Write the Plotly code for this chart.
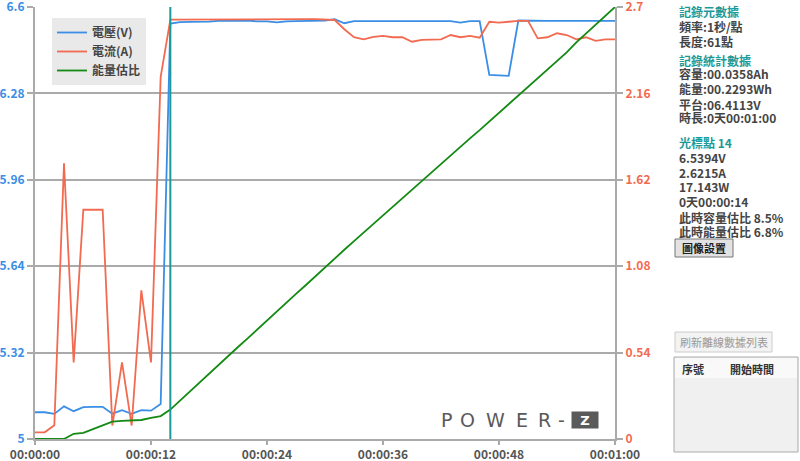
import plotly.graph_objects as go

# ---------------- data ----------------
seconds = list(range(61))
time_ticks = [0, 12, 24, 36, 48, 60]
time_labels = ["00:00:00", "00:00:12", "00:00:24", "00:00:36", "00:00:48", "00:01:00"]

v_ticks = [5, 5.32, 5.64, 5.96, 6.28, 6.6]
v_labels = ["5", "5.32", "5.64", "5.96", "6.28", "6.6"]
a_ticks = [0, 0.54, 1.08, 1.62, 2.16, 2.7]
a_labels = ["0", "0.54", "1.08", "1.62", "2.16", "2.7"]

voltage = [5.099, 5.099, 5.093, 5.121, 5.103, 5.118, 5.119, 5.119, 5.094, 5.107, 5.093, 5.107, 5.105, 5.130,
           6.539, 6.544, 6.545, 6.545, 6.546, 6.549, 6.550, 6.550, 6.550, 6.547, 6.547, 6.543, 6.547, 6.548,
           6.548, 6.550, 6.550, 6.555,
           6.540, 6.548, 6.548, 6.548, 6.548, 6.547, 6.548, 6.548, 6.548, 6.548, 6.547, 6.548, 6.542, 6.548,
           6.548,
           6.349, 6.347, 6.345,
           6.550, 6.549, 6.549, 6.549, 6.549, 6.549, 6.549, 6.549, 6.549, 6.549, 6.549]

current = [0.042, 0.042, 0.086, 1.724, 0.479, 1.433, 1.433, 1.433, 0.084, 0.479, 0.084, 0.929, 0.479, 2.263,
           2.6215, 2.622, 2.622, 2.623, 2.623, 2.623, 2.624, 2.624, 2.624, 2.624, 2.624, 2.624, 2.624, 2.624,
           2.624, 2.624, 2.623, 2.619,
           2.561, 2.511, 2.498, 2.514, 2.519, 2.511, 2.511, 2.483, 2.494, 2.498, 2.498, 2.525, 2.511, 2.519,
           2.508,
           2.608, 2.602, 2.608,
           2.614, 2.614, 2.504, 2.511, 2.536, 2.525, 2.498, 2.511, 2.488, 2.498, 2.498]

energy_pct = [0, 0, 0, 0, 1.2, 1.4, 2.3, 3.2, 4.0, 4.2, 4.3, 4.4, 4.9, 5.3,
              6.8, 8.9, 11.0, 13.1, 15.2, 17.3, 19.3, 21.3, 23.3, 25.4, 27.4, 29.5, 31.5, 33.6, 35.6, 37.7,
              39.7, 41.8,
              43.8, 45.8, 47.8, 49.8, 51.8, 53.7, 55.7, 57.7, 59.7, 61.6, 63.6, 65.6, 67.6, 69.6, 71.5,
              73.5, 75.5, 77.5, 79.6, 81.6, 83.6, 85.5, 87.5, 89.5, 91.8, 93.8, 95.9, 97.9, 100.0]

cursor_index = 14

panel_lines = [
    ("記錄元數據", True), ("頻率:1秒/點", False), ("長度:61點", False),
    ("記錄統計數據", True), ("容量:00.0358Ah", False), ("能量:00.2293Wh", False),
    ("平台:06.4113V", False), ("時長:0天00:01:00", False),
    ("光標點 14", True), ("6.5394V", False), ("2.6215A", False), ("17.143W", False),
    ("0天00:00:14", False), ("此時容量估比 8.5%", False), ("此時能量估比 6.8%", False),
]
panel_y = [11, 26, 41, 60, 74, 89, 104, 118, 142, 157, 172, 187, 202, 217, 232]

# ---------------- geometry helpers (pixel -> paper) ----------------
W, H = 800, 461
ML, MR, MT, MB = 35, 185, 7, 22
PW, PH = W - ML - MR, H - MT - MB


def px(x):
    return (x - ML) / PW


def py(y):
    return (H - MB - y) / PH


BLUE = "#3a8ee6"
RED = "#f26a50"
GREEN = "#138a13"
TEAL = "#1b9a98"
GRID = "#aaaaaa"
TXT = "#444444"
FONT = "Noto Sans CJK TC"


def note(x, y, text, size=12, color=TXT, bold=True, xanchor="center", family=FONT, **kw):
    return dict(xref="paper", yref="paper", x=px(x), y=py(y), text=text, showarrow=False,
                xanchor=xanchor, yanchor="middle",
                font=dict(family=family, size=size, color=color, weight="bold" if bold else "normal"), **kw)


fig = go.Figure()
fig.add_trace(go.Scatter(x=seconds, y=voltage, mode="lines", name="電壓(V)",
                         line=dict(color=BLUE, width=1.8), yaxis="y"))
fig.add_trace(go.Scatter(x=seconds, y=current, mode="lines", name="電流(A)",
                         line=dict(color=RED, width=1.8), yaxis="y2"))
fig.add_trace(go.Scatter(x=seconds, y=energy_pct, mode="lines", name="能量估比",
                         line=dict(color=GREEN, width=1.8), yaxis="y3"))

shapes = [
    dict(type="line", xref="x", yref="paper", x0=cursor_index, x1=cursor_index, y0=0, y1=1,
         line=dict(color=TEAL, width=2)),
    # buttons and table
    dict(type="rect", xref="paper", yref="paper", x0=px(675), x1=px(733), y0=py(257), y1=py(239),
         fillcolor="#e2e2e2", line=dict(color="#777777", width=1), layer="below"),
    dict(type="rect", xref="paper", yref="paper", x0=px(675), x1=px(772), y0=py(352), y1=py(332),
         fillcolor="#f3f3f3", line=dict(color="#cccccc", width=1), layer="below"),
    dict(type="rect", xref="paper", yref="paper", x0=px(674), x1=px(798), y0=py(452), y1=py(357),
         fillcolor="#f0f0f0", line=dict(color="#aaaaaa", width=1), layer="below"),
    dict(type="rect", xref="paper", yref="paper", x0=px(675), x1=px(797), y0=py(378), y1=py(358),
         fillcolor="#f9f9f9", line=dict(width=0), layer="below"),
]

annotations = []
for (txt, head), yy in zip(panel_lines, panel_y):
    annotations.append(note(677, yy, txt, color=TEAL if head else TXT, xanchor="left"))
annotations += [
    note(704, 248, "圖像設置", size=11, color="#222222"),
    note(723.5, 342, "刷新離線數據列表", size=11, color="#999999", bold=False),
    note(680, 369, "序號", size=11, color="#333333", xanchor="left"),
    note(752, 369, "開始時間", size=11, color="#333333"),
    note(584.5, 420, "Z", size=13, color="#ffffff", family="DejaVu Sans",
         bgcolor="#5a5a5a", borderpad=1, width=24, height=14),
]
for ch, cx in zip("POWER-", [446.5, 467.5, 495, 521.5, 544, 561]):
    annotations.append(note(cx, 420, ch, size=19, color="#5a5a5a", bold=False, family="DejaVu Sans"))

fig.update_layout(
    width=W, height=H,
    margin=dict(l=ML, r=MR, t=MT, b=MB, autoexpand=False),
    paper_bgcolor="white", plot_bgcolor="white",
    font=dict(family=FONT, color=TXT),
    showlegend=True,
    legend=dict(x=px(52), y=py(18), xanchor="left", yanchor="top", bgcolor="#e9e9e9",
                borderwidth=0, font=dict(family=FONT, size=12, color=TXT, weight="bold"),
                tracegroupgap=0, itemwidth=30),
    xaxis=dict(range=[0, 60], tickvals=time_ticks, ticktext=time_labels, showgrid=False, zeroline=False,
               automargin=False, ticklabeloverflow="allow",
               showline=True, linecolor=GRID, linewidth=2, ticks="outside", ticklen=4, tickcolor=GRID,
               tickwidth=2, tickfont=dict(family=FONT, size=12, color="#555555", weight="bold")),
    yaxis=dict(range=[5, 6.6001], tickvals=v_ticks, ticktext=v_labels, showgrid=True, gridcolor=GRID,
               automargin=False, ticklabeloverflow="allow",
               gridwidth=2, zeroline=False, showline=True, linecolor=GRID, linewidth=2, ticks="outside",
               ticklen=6, tickcolor=GRID, tickwidth=2,
               tickfont=dict(family=FONT, size=12, color=BLUE, weight="bold")),
    yaxis2=dict(range=[0, 2.7001], tickvals=a_ticks, ticktext=a_labels, overlaying="y", side="right",
                automargin=False, ticklabeloverflow="allow",
                showgrid=False, zeroline=False, showline=True, linecolor=GRID, linewidth=2,
                ticks="outside", ticklen=6, tickcolor=GRID, tickwidth=2,
                tickfont=dict(family=FONT, size=12, color=RED, weight="bold")),
    yaxis3=dict(range=[0, 100], overlaying="y", visible=False),
    shapes=shapes,
    annotations=annotations,
)

fig.write_html("out.html", config={"displayModeBar": False},
               post_script="document.body.style.margin='0px';")
